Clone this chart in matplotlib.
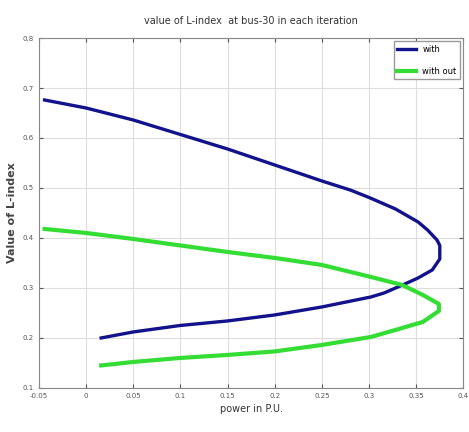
import numpy as np
import matplotlib.pyplot as plt

# L-index at bus-30 (path goes out along the top branch,
# round the nose and back along the lower branch)
power_with = [-0.044, 0.0, 0.05, 0.1, 0.15, 0.2, 0.25, 0.28, 0.3, 0.328,
              0.352, 0.362, 0.372, 0.375, 0.375, 0.367, 0.352, 0.338, 0.316,
              0.302, 0.25, 0.2, 0.15, 0.1, 0.05, 0.016]
lindex_with = [0.676, 0.66, 0.636, 0.607, 0.578, 0.546, 0.514, 0.496, 0.481,
               0.458, 0.432, 0.416, 0.396, 0.385, 0.358, 0.336, 0.32, 0.308,
               0.29, 0.282, 0.262, 0.246, 0.234, 0.225, 0.212, 0.2]

power_without = [-0.044, 0.0, 0.05, 0.1, 0.15, 0.2, 0.25, 0.302, 0.335, 0.357,
                 0.374, 0.374, 0.357, 0.328, 0.302, 0.25, 0.2, 0.15, 0.1, 0.05,
                 0.016]
lindex_without = [0.418, 0.41, 0.398, 0.385, 0.372, 0.36, 0.346, 0.322, 0.306,
                  0.286, 0.268, 0.254, 0.232, 0.216, 0.202, 0.186, 0.173, 0.166,
                  0.16, 0.152, 0.145]

x_ticks = [-0.05, 0, 0.05, 0.1, 0.15, 0.2, 0.25, 0.3, 0.35, 0.4]
x_tick_labels = ['-0.05', '0', '0.05', '0.1', '0.15', '0.2', '0.25', '0.3', '0.35', '0.4']
y_ticks = [0.1, 0.2, 0.3, 0.4, 0.5, 0.6, 0.7, 0.8]

fig = plt.figure(figsize=(4.69, 4.32), dpi=100)
ax = fig.add_axes([0.083, 0.102, 0.905, 0.81])

ax.plot(power_with, lindex_with, color='#12128c', linewidth=2.4, label='with')
ax.plot(power_without, lindex_without, color='#33dd33', linewidth=3.0, label='with out')

ax.set_xlim(-0.05, 0.4)
ax.set_ylim(0.1, 0.8)
ax.set_xticks(x_ticks)
ax.set_xticklabels(x_tick_labels)
ax.set_yticks(y_ticks)
ax.tick_params(direction='in', length=3, labelsize=5, colors='#555555',
               top=True, right=True)
ax.grid(True, color='#dddddd', linewidth=0.8)
for s in ax.spines.values():
    s.set_color('#888888')

ax.set_title('value of L-index  at bus-30 in each iteration', fontsize=7,
             color='#333333', pad=10)
ax.set_xlabel('power in P.U.', fontsize=7, color='#333333')
ax.set_ylabel('Value of L-index', fontsize=8, fontweight='bold', color='#444444')

leg = ax.legend(loc='upper right', fontsize=6, handlelength=2.2,
                fancybox=False, framealpha=1, borderaxespad=0.4,
                labelspacing=1.6)
leg.get_frame().set_edgecolor('#999999')

fig.savefig('out.png', dpi=100)
